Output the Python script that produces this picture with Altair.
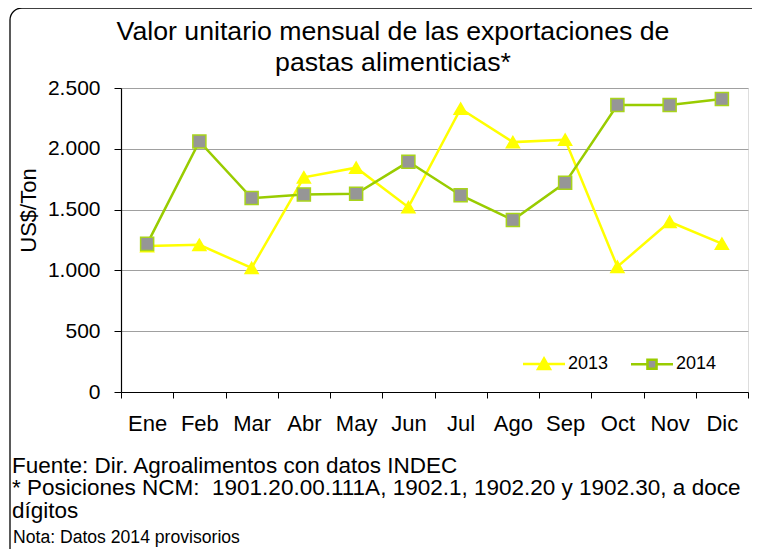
import altair as alt
import pandas as pd

meses = ["Ene", "Feb", "Mar", "Abr", "May", "Jun", "Jul", "Ago", "Sep", "Oct", "Nov", "Dic"]
v2013 = [1200, 1210, 1020, 1765, 1845, 1520, 2330, 2055, 2075, 1030, 1400, 1220]
v2014 = [1218, 2060, 1595, 1625, 1630, 1893, 1618, 1415, 1720, 2360, 2360, 2410]
anios = ["2013", "2014"]

titulo = ["Valor unitario mensual de las exportaciones de", "pastas alimenticias*"]
notas = ["Fuente: Dir. Agroalimentos con datos INDEC",
         "* Posiciones NCM:\u00a0 1901.20.00.111A, 1902.1, 1902.20 y 1902.30, a doce",
         "dígitos"]
nota2 = "Nota: Datos 2014 provisorios"

FONT = "Liberation Sans"
YELLOW = "#ffff00"
GREEN = "#99cc00"
GRAY = "#969696"

rows = []
for m, a in zip(meses, v2013):
    rows.append({"mes": m, "anio": "2013", "valor": a})
for m, b in zip(meses, v2014):
    rows.append({"mes": m, "anio": "2014", "valor": b})
df = pd.DataFrame(rows)

W, H = 627, 304

x_enc = alt.X("mes:N", sort=meses, title=None,
              scale=alt.Scale(type="band", paddingInner=0, paddingOuter=0),
              axis=alt.Axis(tickBand="extent", labelAngle=0, labelFontSize=22,
                            labelFont=FONT, labelColor="black", domainColor="black",
                            tickColor="black", tickSize=6, labelPadding=15,
                            domainWidth=1.2, grid=False))
y_enc = alt.Y("valor:Q", title="US$/Ton",
              scale=alt.Scale(domain=[0, 2500]),
              axis=alt.Axis(values=[0, 500, 1000, 1500, 2000, 2500],
                            labelExpr="replace(format(datum.value, ','), ',', '.')",
                            labelFontSize=21, labelFont=FONT, labelColor="black",
                            domainColor="black", tickColor="black", tickSize=7,
                            labelPadding=14, domainWidth=1.2,
                            gridColor="#a0a0a0", gridWidth=1,
                            titleFont=FONT, titleFontSize=22, titleFontWeight="normal",
                            titleColor="black", titleX=-86, titleY=122,
                            titleBaseline="alphabetic"))

sym13 = "M-3,0H-0.6M0.6,0H3M0,-0.8L0.85,0.7L-0.85,0.7Z"
sym14 = "M-3,0H-0.65M0.65,0H3M-0.65,-0.65H0.65V0.65H-0.65Z"

legend = alt.Legend(orient="none", legendX=414, legendY=267, direction="horizontal",
                    title=None, labelFontSize=18, labelFont=FONT, labelColor="black",
                    symbolSize=196, labelOffset=15, columnPadding=17, padding=0,
                    symbolStrokeWidth=2.5, symbolOpacity=1)

base = alt.Chart(df).encode(x=x_enc, y=y_enc)

lines = base.mark_line(strokeWidth=2.5).encode(
    color=alt.Color("anio:N", scale=alt.Scale(domain=anios, range=[YELLOW, GREEN]),
                    legend=None))

points = base.mark_point(filled=True, size=170, strokeWidth=1.5, opacity=1).encode(
    shape=alt.Shape("anio:N", scale=alt.Scale(domain=anios, range=["triangle-up", "square"]), legend=None),
    fill=alt.Fill("anio:N", scale=alt.Scale(domain=anios, range=[YELLOW, GRAY]), legend=None),
    stroke=alt.Stroke("anio:N", scale=alt.Scale(domain=anios, range=[YELLOW, "#a8d41a"]), legend=None),
)

leg_layer = base.mark_point(filled=True, size=196, strokeWidth=2.5, opacity=1).encode(
    shape=alt.Shape("anio:N", scale=alt.Scale(domain=anios, range=[sym13, sym14]), legend=legend),
    fill=alt.Fill("anio:N", scale=alt.Scale(domain=anios, range=[YELLOW, GRAY]), legend=legend),
    stroke=alt.Stroke("anio:N", scale=alt.Scale(domain=anios, range=[YELLOW, GREEN]), legend=legend),
).transform_filter("false")

one = pd.DataFrame({"k": [0]})

border_top = alt.Chart(one).mark_rule(stroke="black", strokeWidth=1.3).encode(
    x=alt.value(-99), x2=alt.value(640), y=alt.value(-80))
border_left = alt.Chart(one).mark_rule(stroke="black", strokeWidth=1.3).encode(
    x=alt.value(-111), y=alt.value(-68), y2=alt.value(470))
border_corner = alt.Chart(one).mark_arc(filled=False, stroke="black", strokeWidth=1.3,
                                        theta=4.7124, theta2=6.2832,
                                        innerRadius=12, outerRadius=12).encode(
    x=alt.value(-99), y=alt.value(-68))

title_txt = alt.Chart(one).mark_text(text=titulo, align="center", baseline="alphabetic",
                                     fontSize=26.7, font=FONT, lineHeight=31,
                                     color="black").encode(
    x=alt.value(272), y=alt.value(-48.5))

foot = alt.Chart(one).mark_text(text=notas, align="left", baseline="alphabetic",
                                fontSize=22.5, font=FONT, lineHeight=22.8,
                                color="black").encode(
    x=alt.value(-109), y=alt.value(384.7))

foot2 = alt.Chart(one).mark_text(text=nota2, align="left", baseline="alphabetic",
                                 fontSize=17.6, font=FONT, color="black").encode(
    x=alt.value(-108), y=alt.value(455.3))

chart = alt.layer(border_top, border_left, border_corner, lines, points, leg_layer,
                  title_txt, foot, foot2).resolve_scale(
    shape="independent", fill="independent", stroke="independent"
).properties(
    width=W, height=H,
    autosize=alt.AutoSizeParams(type="none"),
    padding={"left": 113, "top": 80, "right": 4, "bottom": 159},
).configure_view(stroke="#8c8c8c", strokeWidth=1.5).configure(background="white")

chart.save("out.html", embed_options={"renderer": "svg", "actions": False})
